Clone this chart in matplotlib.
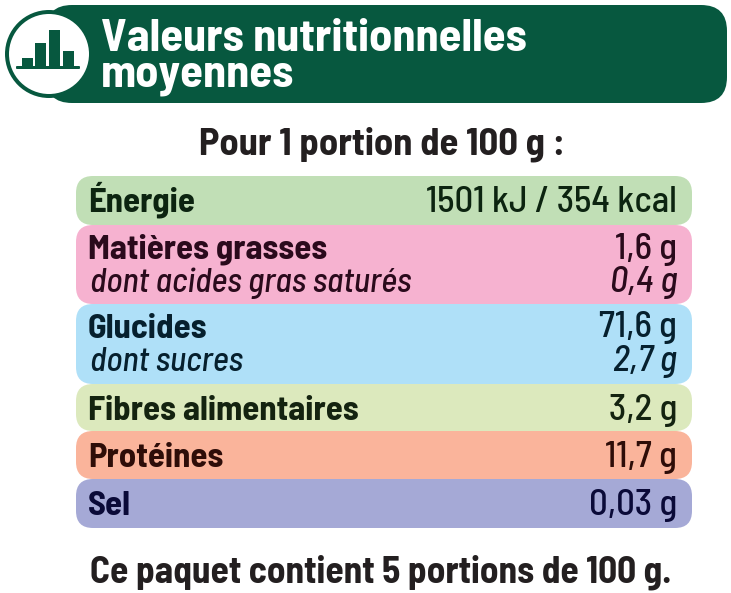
import matplotlib
matplotlib.use("Agg")
import matplotlib.pyplot as plt
from matplotlib.patches import FancyBboxPatch, Circle

plt.rcParams['font.family'] = ['Barlow Semi Condensed', 'Liberation Sans', 'DejaVu Sans']

# Table rows
row_names = ["Énergie", "Matières grasses", "Glucides", "Fibres alimentaires", "Protéines", "Sel"]
row_values = ["1501 kJ / 354 kcal", "1,6 g", "71,6 g", "3,2 g", "11,7 g", "0,03 g"]
sub_names = [None, "dont acides gras saturés", "dont sucres", None, None, None]
sub_values = [None, "0,4 g", "2,7 g", None, None, None]
row_colors = ["#c1dfb6", "#f6b2d0", "#afe0f8", "#dce9bd", "#fab49b", "#a5a9d6"]
row_edges = [176, 225, 304, 384, 431, 479, 528]
text_colors = ["#0c2410", "#2a0a1c", "#06202e", "#142310", "#2e0d08", "#0a0a38"]

# Little bar chart in the badge
icon_x = [27.5, 40.5, 54.5, 68.5]
icon_heights = [8, 23, 36, 15]

title_lines = ["Valeurs nutritionnelles", "moyennes"]
header = "Pour 1 portion de 100 g :"
footer = "Ce paquet contient 5 portions de 100 g."

green = "#07583f"
dark = "#231f20"

fig = plt.figure(figsize=(7.31, 5.93), dpi=100)
ax = fig.add_axes([0, 0, 1, 1])
ax.set_xlim(0, 731)
ax.set_ylim(593, 0)
ax.axis("off")

# banner
ax.add_patch(FancyBboxPatch((46, 5), 681, 98, boxstyle="round,pad=0,rounding_size=26",
                            fc=green, ec="none"))
ax.add_patch(Circle((49, 54), 44, fc=green, ec="none"))
ax.add_patch(Circle((49, 54), 40, fc="white", ec="none"))
ax.bar(icon_x, [-h for h in icon_heights], width=11, bottom=66, color=green)
ax.add_patch(FancyBboxPatch((16, 66), 64, 3, boxstyle="round,pad=0,rounding_size=1",
                            fc=green, ec="none"))
ax.text(101, 51, title_lines[0], color="white", fontsize=33.5, fontweight="bold", va="baseline", ha="left")
ax.text(101, 87, title_lines[1], color="white", fontsize=33.5, fontweight="bold", va="baseline", ha="left")

ax.text(382, 154, header, color=dark, fontsize=27.7, fontweight="bold", va="baseline", ha="center")

# table
for i, name in enumerate(row_names):
    top, bottom = row_edges[i], row_edges[i + 1]
    ax.add_patch(FancyBboxPatch((76, top), 616, bottom - top,
                                boxstyle="round,pad=0,rounding_size=17",
                                fc=row_colors[i], ec="none"))
    y = top + (36 if sub_names[i] is None else 33.5)
    ax.text(88, y, name, color=text_colors[i], fontsize=25, fontweight="bold", va="baseline", ha="left")
    ax.text(677, y, row_values[i], color=text_colors[i], fontsize=26.5, fontweight=500, va="baseline", ha="right")
    if sub_names[i] is not None:
        ax.text(90, top + 67, sub_names[i], color=text_colors[i], fontsize=24.5, fontweight=500, style="italic", va="baseline", ha="left")
        ax.text(677, top + 67, sub_values[i], color=text_colors[i], fontsize=26, fontweight=500, style="italic", va="baseline", ha="right")

ax.text(381, 583, footer, color=dark, fontsize=26.9, fontweight="bold", va="baseline", ha="center")

fig.savefig("out.png", dpi=100)
